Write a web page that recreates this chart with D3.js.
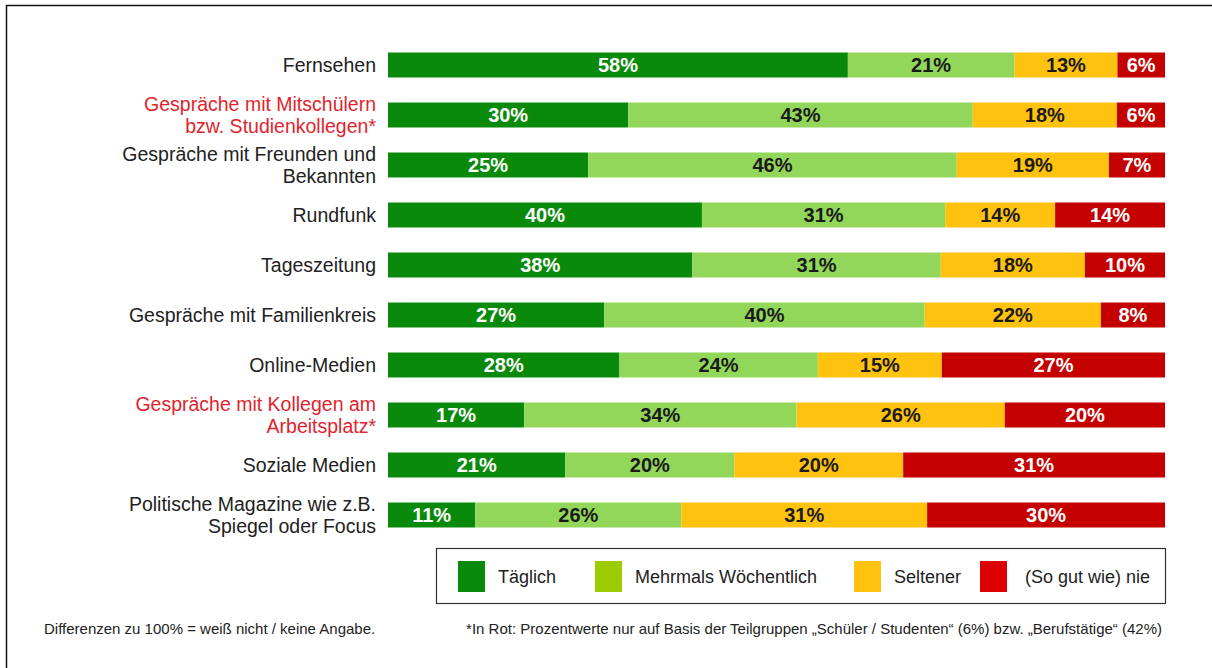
<!DOCTYPE html>
<html>
<head>
<meta charset="utf-8">
<script src="https://cdn.jsdelivr.net/npm/d3@7"></script>
<style>
  body { margin: 0; background: #fff; }
  text { font-family: "Liberation Sans", Arial, sans-serif; }
</style>
</head>
<body>
<script>
var categories = [
  "Fernsehen",
  "Gespräche mit Mitschülern\nbzw. Studienkollegen*",
  "Gespräche mit Freunden und\nBekannten",
  "Rundfunk",
  "Tageszeitung",
  "Gespräche mit Familienkreis",
  "Online-Medien",
  "Gespräche mit Kollegen am\nArbeitsplatz*",
  "Soziale Medien",
  "Politische Magazine wie z.B.\nSpiegel oder Focus"
];
var redCategories = [1, 7];
var seriesNames = ["Täglich", "Mehrmals Wöchentlich", "Seltener", "(So gut wie) nie"];
var taeglich  = [58, 30, 25, 40, 38, 27, 28, 17, 21, 11];
var mehrmals  = [21, 43, 46, 31, 31, 40, 24, 34, 20, 26];
var seltener  = [13, 18, 19, 14, 18, 22, 15, 26, 20, 31];
var nie       = [6, 6, 7, 14, 10, 8, 27, 20, 31, 30];

var barColors = ["#0a8a0a", "#92d65a", "#ffc20e", "#c40000"];
var legendColors = ["#0a8a0a", "#9ccc00", "#ffc20e", "#dd0000"];
var textColors = ["#ffffff", "#1a1a1a", "#1a1a1a", "#ffffff"];

var width = 1212, height = 668;
var svg = d3.select("body").append("svg")
  .attr("width", width)
  .attr("height", height);

// frame
svg.append("rect")
  .attr("x", 6.5).attr("y", 5.5)
  .attr("width", width).attr("height", height)
  .attr("fill", "none")
  .attr("stroke", "#111")
  .attr("stroke-width", 1.5);

var rows = categories.map(function(c, i) {
  return { cat: c, i: i, s0: taeglich[i], s1: mehrmals[i], s2: seltener[i], s3: nie[i] };
});
var keys = ["s0", "s1", "s2", "s3"];
// bars fill the full width: each row scaled to its own total
var stacked = d3.stack().keys(keys).offset(d3.stackOffsetExpand)(rows);

var x = d3.scaleLinear().domain([0, 1]).range([388, 1165]);
var y = d3.scaleBand()
  .domain(d3.range(categories.length))
  .range([40, 540])
  .paddingInner(0.5)
  .paddingOuter(0.25);

var layers = svg.selectAll("g.layer")
  .data(stacked)
  .enter().append("g")
  .attr("class", "layer");

layers.each(function(layer, li) {
  var g = d3.select(this);
  g.selectAll("rect")
    .data(layer)
    .enter().append("rect")
    .attr("x", function(d) { return x(d[0]); })
    .attr("y", function(d) { return y(d.data.i); })
    .attr("width", function(d) { return x(d[1]) - x(d[0]); })
    .attr("height", y.bandwidth())
    .attr("fill", barColors[li]);

  g.selectAll("text")
    .data(layer)
    .enter().append("text")
    .attr("x", function(d) { return (x(d[0]) + x(d[1])) / 2; })
    .attr("y", function(d) { return y(d.data.i) + y.bandwidth() / 2; })
    .attr("dy", "0.36em")
    .attr("text-anchor", "middle")
    .attr("fill", textColors[li])
    .style("font-size", "20px")
    .style("font-weight", "bold")
    .text(function(d) { return d.data[layer.key] + "%"; });
});

// category labels
var labels = svg.selectAll("text.cat")
  .data(categories)
  .enter().append("text")
  .attr("class", "cat")
  .attr("text-anchor", "end")
  .attr("fill", function(d, i) { return redCategories.indexOf(i) >= 0 ? "#e3232c" : "#222"; })
  .style("font-size", "19.5px");

labels.each(function(d, i) {
  var lines = d.split("\n");
  var cy = y(i) + y.bandwidth() / 2;
  var t = d3.select(this);
  lines.forEach(function(line, k) {
    t.append("tspan")
      .attr("x", 376)
      .attr("y", cy + (k - (lines.length - 1) / 2) * 22)
      .attr("dy", "0.36em")
      .text(line);
  });
});

// legend
var legend = svg.append("g");
legend.append("rect")
  .attr("x", 436.5).attr("y", 548.5)
  .attr("width", 729).attr("height", 55)
  .attr("fill", "#fff")
  .attr("stroke", "#333")
  .attr("stroke-width", 1.2);

var legendX = [458, 595, 854, 980];
seriesNames.forEach(function(name, i) {
  legend.append("rect")
    .attr("x", legendX[i]).attr("y", 561)
    .attr("width", 27).attr("height", 31)
    .attr("fill", legendColors[i]);
  legend.append("text")
    .attr("x", legendX[i] + (i === 3 ? 45 : 40))
    .attr("y", 577)
    .attr("dy", "0.36em")
    .attr("fill", "#222")
    .style("font-size", "18px")
    .text(name);
});

// footnotes
svg.append("text")
  .attr("x", 44).attr("y", 629)
  .attr("dy", "0.36em")
  .attr("fill", "#222")
  .style("font-size", "15px")
  .text("Differenzen zu  100% = weiß nicht / keine Angabe.");

svg.append("text")
  .attr("x", 1162).attr("y", 629)
  .attr("dy", "0.36em")
  .attr("text-anchor", "end")
  .attr("fill", "#222")
  .style("font-size", "15px")
  .text("*In Rot: Prozentwerte nur auf Basis der Teilgruppen \u201ESchüler / Studenten\u201C (6%) bzw. \u201EBerufstätige\u201C (42%)");
</script>
</body>
</html>
